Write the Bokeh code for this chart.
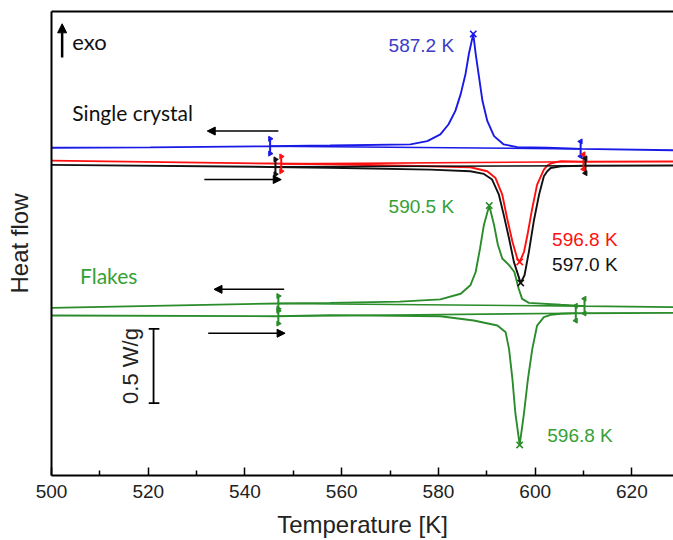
import math
from bokeh.plotting import figure
from bokeh.models import (Range1d, LinearAxis, FixedTicker, Arrow, NormalHead,
                          Label, ColumnDataSource)
from bokeh.embed import file_html
from bokeh.resources import INLINE

# ---------------- data (Temperature [K], heat flow [W/g], arbitrary offsets) -------------
blue_T = [500.0, 520.4, 545.2, 557.6, 574.2, 577.7, 580.4, 582.1, 583.5, 584.6, 585.6,
          586.3, 587.2, 587.7, 588.4, 589.1, 590.1, 591.5, 593.5, 596.3, 602.5, 609.4, 628.6]
blue_Q = [2.209, 2.212, 2.220, 2.225, 2.232, 2.254, 2.300, 2.368, 2.458, 2.571, 2.707,
          2.843, 2.977, 2.843, 2.684, 2.526, 2.390, 2.288, 2.232, 2.214, 2.209, 2.202, 2.193]

black_T = [500.0, 545.2, 557.6, 578.3, 586.6, 589.4, 591.1, 592.5, 593.5, 594.6, 595.6,
           596.6, 597.0, 597.8, 598.7, 599.7, 600.8, 601.8, 602.5, 603.2, 605.3, 610.0, 628.6]
black_Q = [2.094, 2.080, 2.075, 2.062, 2.051, 2.033, 1.995, 1.893, 1.757, 1.598, 1.440,
           1.339, 1.298, 1.350, 1.508, 1.712, 1.893, 2.017, 2.051, 2.073, 2.085, 2.088, 2.090]

red_T = [500.0, 545.2, 557.6, 578.3, 586.6, 590.1, 591.8, 593.2, 594.2, 595.3, 596.3,
         596.8, 597.7, 598.4, 599.4, 600.4, 601.8, 602.6, 603.5, 605.3, 610.0, 628.6]
red_Q = [2.123, 2.103, 2.098, 2.085, 2.078, 2.051, 2.005, 1.893, 1.734, 1.576, 1.463,
         1.440, 1.508, 1.621, 1.802, 1.961, 2.062, 2.093, 2.107, 2.119, 2.115, 2.117]

flake_cool_T = [500.0, 546.9, 557.6, 572.0, 580.4, 584.6, 586.6, 587.7, 588.6, 589.4, 590.5,
                591.5, 592.3, 593.2, 594.6, 595.7, 596.6, 597.3, 598.7, 605.3, 610.2, 628.6]
flake_cool_Q = [1.130, 1.160, 1.164, 1.172, 1.187, 1.225, 1.282, 1.372, 1.531, 1.689, 1.820,
                1.689, 1.554, 1.463, 1.418, 1.372, 1.259, 1.191, 1.164, 1.151, 1.142, 1.135]

flake_heat_T = [500.0, 546.9, 557.6, 580.4, 587.3, 592.2, 593.9, 594.6, 595.3, 595.9, 596.8,
                597.7, 598.5, 599.4, 600.4, 601.8, 603.2, 605.3, 608.4, 628.6]
flake_heat_Q = [1.079, 1.074, 1.081, 1.074, 1.045, 1.011, 0.965, 0.852, 0.649, 0.423, 0.206,
                0.423, 0.649, 0.852, 1.011, 1.067, 1.083, 1.090, 1.094, 1.096]

# integration baselines (start T, start Q, end T, end Q)
base_T0 = [545.2, 547.5, 546.3, 546.9, 546.9]
base_Q0 = [2.220, 2.101, 2.081, 1.160, 1.074]
base_T1 = [609.4, 610.0, 610.4, 610.2, 608.4]
base_Q1 = [2.202, 2.115, 2.088, 1.142, 1.094]

# integration limit markers
lim_T = [545.2, 609.4, 547.5, 610.0, 546.3, 610.4, 546.9, 610.2, 546.9, 608.4]
lim_Q = [2.220, 2.202, 2.101, 2.115, 2.081, 2.088, 1.160, 1.142, 1.074, 1.094]
lim_side = ["L", "R", "L", "R", "L", "R", "L", "R", "L", "R"]

# peak positions and labels
peak_T = [587.2, 596.8, 597.0, 590.5, 596.8]
peak_Q = [2.977, 1.440, 1.298, 1.820, 0.206]
peak_text = ["587.2 K", "596.8 K", "597.0 K", "590.5 K", "596.8 K"]
peak_lab_T = [569.7, 603.5, 603.5, 569.7, 602.5]
peak_lab_Q = [2.899, 1.594, 1.422, 1.813, 0.271]

x_ticks = [500, 520, 540, 560, 580, 600, 620]
x_minor = [510, 530, 550, 570, 590, 610]

BLUE = "#1a1ae6"
RED = "#ff1010"
BLACK = "#111111"
GREEN = "#2b8c2b"
GREEN_TXT = "#35a035"

colors_base = [BLUE, RED, BLACK, GREEN, GREEN]
lim_color = [BLUE, BLUE, RED, RED, BLACK, BLACK, GREEN, GREEN, GREEN, GREEN]
peak_color = [BLUE, RED, BLACK, GREEN, GREEN]
peak_lab_color = ["#3c3cc8", RED, BLACK, GREEN_TXT, GREEN_TXT]

# ---------------- figure ----------------
p = figure(width=673, height=540, x_range=Range1d(500, 628.6), y_range=Range1d(0, 3.128),
           output_backend="svg", toolbar_location=None,
           min_border_left=51, min_border_right=0, min_border_top=11, min_border_bottom=60)
p.grid.visible = False
p.outline_line_color = None
p.background_fill_color = "white"
p.border_fill_color = "white"

# x axis
xa = p.xaxis[0]
xa.ticker = FixedTicker(ticks=x_ticks, minor_ticks=x_minor)
xa.axis_line_width = 2
xa.axis_line_color = "black"
xa.major_tick_in = 8
xa.major_tick_out = 0
xa.minor_tick_in = 5
xa.minor_tick_out = 0
xa.major_tick_line_width = 1.5
xa.minor_tick_line_width = 1.5
xa.major_label_text_font = "Liberation Sans"
xa.major_label_text_font_size = "19px"
xa.major_label_text_color = "#222222"
xa.major_label_standoff = 9
xa.axis_label = "Temperature [K]"
xa.axis_label_text_font = "Liberation Sans"
xa.axis_label_text_font_size = "24px"
xa.axis_label_text_font_style = "normal"
xa.axis_label_text_color = "#222222"
xa.axis_label_standoff = 10

# y axis
ya = p.yaxis[0]
ya.ticker = FixedTicker(ticks=[])
ya.axis_line_width = 2
ya.axis_line_color = "black"
ya.major_tick_line_color = None
ya.minor_tick_line_color = None
ya.major_label_standoff = 0
ya.axis_label = "Heat flow"
ya.axis_label_text_font = "Liberation Sans"
ya.axis_label_text_font_size = "24px"
ya.axis_label_text_font_style = "normal"
ya.axis_label_text_color = "#222222"
ya.axis_label_standoff = 19

# top border line
top = LinearAxis(ticker=FixedTicker(ticks=[]), axis_line_width=2, axis_line_color="black",
                 major_tick_line_color=None, minor_tick_line_color=None,
                 major_label_standoff=0)
p.add_layout(top, "above")

# ---------------- curves ----------------
LW = 1.9
p.line(blue_T, blue_Q, line_color=BLUE, line_width=LW)
p.line(red_T, red_Q, line_color=RED, line_width=LW)
p.line(black_T, black_Q, line_color=BLACK, line_width=LW)
p.line(flake_cool_T, flake_cool_Q, line_color=GREEN, line_width=LW)
p.line(flake_heat_T, flake_heat_Q, line_color=GREEN, line_width=LW)

p.segment(x0=base_T0, y0=base_Q0, x1=base_T1, y1=base_Q1, line_color=colors_base, line_width=1.6)

# limit markers
half = 0.05
lim_src = ColumnDataSource(dict(
    x=lim_T, y0=[q - half for q in lim_Q], y1=[q + half for q in lim_Q], c=lim_color,
    ang=[-math.pi / 2 if s == "L" else math.pi / 2 for s in lim_side]))
p.segment(x0="x", y0="y0", x1="x", y1="y1", line_color="c", line_width=2, source=lim_src)
p.scatter(x="x", y="y0", marker="triangle", size=5, angle="ang", fill_color="c", line_color="c", source=lim_src)
p.scatter(x="x", y="y1", marker="triangle", size=5, angle="ang", fill_color="c", line_color="c", source=lim_src)

# peak markers
p.scatter(peak_T, peak_Q, marker="x", size=9, line_color=peak_color, line_width=1.6)

for t, xq, yq, c in zip(peak_text, peak_lab_T, peak_lab_Q, peak_lab_color):
    p.add_layout(Label(x=xq, y=yq, text=t, text_color=c, text_font="Liberation Sans",
                       text_font_size="19px", text_align="left", text_baseline="middle"))

# annotations
p.add_layout(Label(x=504.3, y=2.444, text="Single crystal", text_color=BLACK, text_font="Lato",
                   text_font_size="21px", text_align="left", text_baseline="middle"))
p.add_layout(Label(x=505.9, y=1.350, text="Flakes", text_color=GREEN_TXT, text_font="Lato",
                   text_font_size="21px", text_align="left", text_baseline="middle"))
p.add_layout(Label(x=504.3, y=2.925, text="exo", text_color=BLACK, text_font="Lato",
                   text_font_size="22px", text_align="left", text_baseline="middle"))

def arrow(x0, y0, x1, y1, lw=1.5, size=8):
    p.add_layout(Arrow(end=NormalHead(size=size, fill_color="black", line_color="black", line_width=1),
                       x_start=x0, y_start=y0, x_end=x1, y_end=y1,
                       line_color="black", line_width=lw))

arrow(502.2, 2.818, 502.2, 3.045, lw=2.5, size=9)
arrow(546.9, 2.322, 532.2, 2.322)
arrow(531.6, 1.995, 547.5, 1.995)
arrow(548.1, 1.255, 533.6, 1.255)
arrow(532.4, 0.959, 548.3, 0.959)

# scale bar 0.5 W/g
p.segment(x0=[521.1, 520.1, 520.1], y0=[0.488, 0.488, 0.988],
          x1=[521.1, 522.3, 522.3], y1=[0.988, 0.488, 0.988], line_color="black", line_width=1.8)
p.add_layout(Label(x=516.3, y=0.738, text="0.5 W/g", angle=math.pi / 2, text_color="#222222",
                   text_font="Liberation Sans", text_font_size="22px",
                   text_align="center", text_baseline="middle"))

open("out.html", "w").write(file_html(p, INLINE))
